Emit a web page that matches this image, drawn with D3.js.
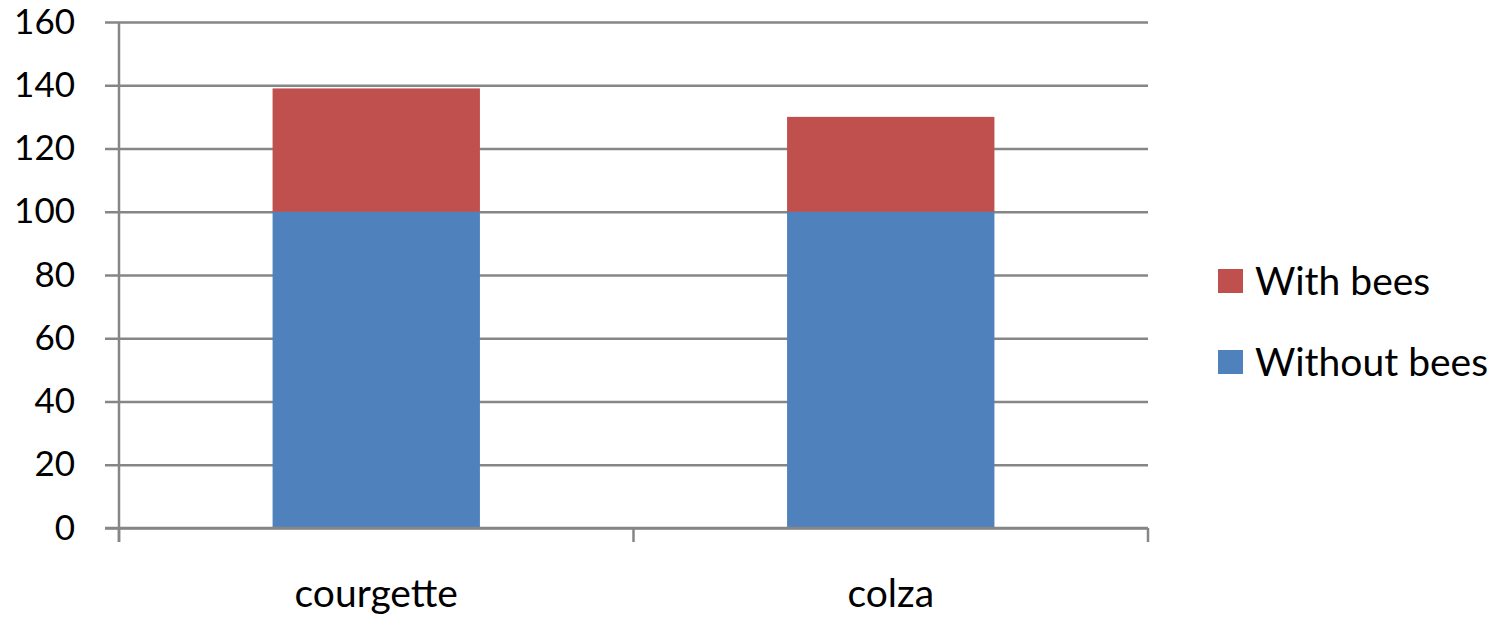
<!DOCTYPE html>
<html>
<head>
<meta charset="utf-8">
<script src="https://cdn.jsdelivr.net/npm/d3@7"></script>
<style>
  html, body { margin: 0; padding: 0; background: #fff; }
  svg { display: block; font-family: Lato, "Open Sans", sans-serif; }
  .axis .domain { stroke: #868686; stroke-width: 2.5; }
  .axis line { stroke: #868686; stroke-width: 2.5; }
  .axis text { fill: #000; font-size: 39px; font-family: Lato, "Open Sans", sans-serif; }
  .axis.axis--y text { font-size: 35px; }
  .grid line { stroke: #868686; stroke-width: 2.5; }
  .grid .domain { display: none; }
</style>
</head>
<body>
<div id="chart"></div>
<script>
// values
const categories = ['courgette', 'colza'];
const withoutBees = [100, 100];
const withBees = [39, 30];
const seriesNames = ['Without bees', 'With bees'];
const yTicks = [0, 20, 40, 60, 80, 100, 120, 140, 160];

const COLORS = { 'Without bees': '#4F81BD', 'With bees': '#C0504D' };

const W = 1497, H = 617;
const M = { top: 22, right: 349, bottom: 89, left: 119 };
const iw = W - M.left - M.right;
const ih = H - M.top - M.bottom;

const svg = d3.select('#chart').append('svg')
  .attr('width', W).attr('height', H);
const g = svg.append('g').attr('transform', `translate(${M.left},${M.top})`);

const x = d3.scaleBand().domain(categories).range([0, iw]).padding(0);
const y = d3.scaleLinear().domain([0, 160]).range([ih, 0]);
const barW = x.bandwidth() * 0.403;

// horizontal grid, ticks poke out left of the axis
g.append('g').attr('class', 'grid')
  .call(d3.axisLeft(y).tickValues(yTicks).tickSize(-iw).tickFormat(''));

const rows = categories.map((c, i) => ({
  cat: c, 'Without bees': withoutBees[i], 'With bees': withBees[i]
}));
const stacked = d3.stack().keys(seriesNames)(rows);

g.selectAll('.layer').data(stacked).join('g')
  .attr('class', 'layer')
  .attr('fill', d => COLORS[d.key])
  .selectAll('rect').data(d => d).join('rect')
    .attr('x', d => x(d.data.cat) + (x.bandwidth() - barW) / 2)
    .attr('y', d => y(d[1]))
    .attr('width', barW)
    .attr('height', d => y(d[0]) - y(d[1]));

// y axis
const yAxis = g.append('g').attr('class', 'axis axis--y')
  .call(d3.axisLeft(y).tickValues(yTicks).tickSize(14).tickPadding(30));
yAxis.attr('font-family', null).attr('font-size', null);
yAxis.selectAll('.tick line').attr('x2', -14);
yAxis.select('.domain').attr('d', `M0,${ih + 14}V0`);

// x axis: ticks at band edges, labels at centres
const xAxis = g.append('g').attr('class', 'axis axis--x')
  .attr('transform', `translate(0,${ih})`);
xAxis.append('line')
  .attr('x1', -14).attr('x2', iw).attr('y1', 0).attr('y2', 0);
const edges = [0, ...categories.map(c => x(c) + x.bandwidth())];
xAxis.selectAll('.edge').data(edges).join('line')
  .attr('class', 'edge')
  .attr('x1', d => d).attr('x2', d => d)
  .attr('y1', 0).attr('y2', 14);
xAxis.selectAll('.lbl').data(categories).join('text')
  .attr('class', 'lbl')
  .attr('x', d => x(d) + x.bandwidth() / 2)
  .attr('y', 79)
  .attr('text-anchor', 'middle')
  .text(d => d);

// legend
const legendItems = ['With bees', 'Without bees'];
const lg = svg.append('g').attr('transform', 'translate(1218,269)');
const li = lg.selectAll('g').data(legendItems).join('g')
  .attr('transform', (d, i) => `translate(0,${i * 81})`);
li.append('rect').attr('width', 25).attr('height', 24).attr('fill', d => COLORS[d]);
li.append('text')
  .attr('x', 37).attr('y', 12).attr('dy', '0.35em')
  .attr('font-size', 39).attr('fill', '#000')
  .text(d => d);
</script>
</body>
</html>
